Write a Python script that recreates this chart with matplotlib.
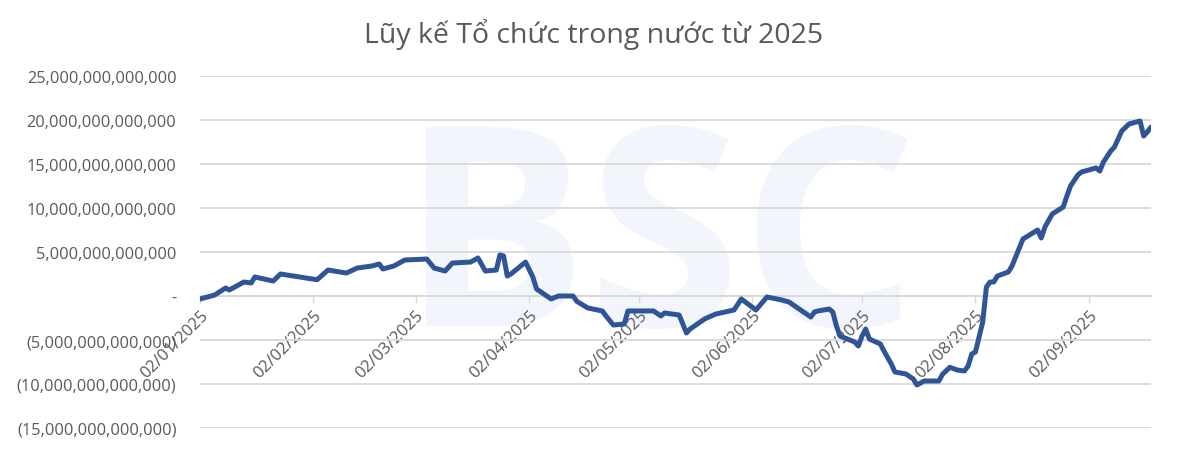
import matplotlib
matplotlib.use("Agg")
import matplotlib.pyplot as plt
import matplotlib.dates as mdates
from matplotlib.ticker import FuncFormatter, MultipleLocator
import pandas as pd

# ---- data (values in trillion VND) ----
dates = [
    "2025-01-02", "2025-01-06", "2025-01-09", "2025-01-10", "2025-01-14", "2025-01-16",
    "2025-01-17", "2025-01-22", "2025-01-24", "2025-02-03", "2025-02-06", "2025-02-11",
    "2025-02-14", "2025-02-18", "2025-02-20", "2025-02-21", "2025-02-24", "2025-02-27",
    "2025-03-05", "2025-03-07", "2025-03-10", "2025-03-12", "2025-03-17", "2025-03-19",
    "2025-03-21", "2025-03-24", "2025-03-25", "2025-03-26", "2025-03-27", "2025-03-28",
    "2025-04-01", "2025-04-03", "2025-04-04", "2025-04-08", "2025-04-10", "2025-04-14",
    "2025-04-15", "2025-04-18", "2025-04-22", "2025-04-23", "2025-04-25", "2025-04-28",
    "2025-04-29", "2025-05-02", "2025-05-06", "2025-05-08", "2025-05-09", "2025-05-13",
    "2025-05-15", "2025-05-16", "2025-05-20", "2025-05-23", "2025-05-28", "2025-05-30",
    "2025-06-03", "2025-06-06", "2025-06-10", "2025-06-12", "2025-06-16", "2025-06-18",
    "2025-06-19", "2025-06-20", "2025-06-23", "2025-06-24", "2025-06-25", "2025-06-26",
    "2025-06-30", "2025-07-01", "2025-07-02", "2025-07-03", "2025-07-04", "2025-07-07",
    "2025-07-08", "2025-07-10", "2025-07-11", "2025-07-14", "2025-07-16", "2025-07-17",
    "2025-07-19", "2025-07-23", "2025-07-24", "2025-07-26", "2025-07-28", "2025-07-30",
    "2025-07-31", "2025-08-01", "2025-08-02", "2025-08-04", "2025-08-05", "2025-08-06",
    "2025-08-07", "2025-08-08", "2025-08-11", "2025-08-12", "2025-08-15", "2025-08-19",
    "2025-08-20", "2025-08-21", "2025-08-23", "2025-08-26", "2025-08-27", "2025-08-28",
    "2025-08-30", "2025-08-31", "2025-09-04", "2025-09-05", "2025-09-06", "2025-09-08",
    "2025-09-09", "2025-09-11", "2025-09-13", "2025-09-16", "2025-09-17", "2025-09-18",
    "2025-09-19",
]
values_trillion = [
    -0.34, 0.11, 0.91, 0.68, 1.59, 1.48,
    2.16, 1.70, 2.50, 1.85, 2.95, 2.61,
    3.18, 3.41, 3.64, 3.07, 3.41, 4.09,
    4.20, 3.18, 2.84, 3.75, 3.86, 4.32,
    2.84, 2.95, 4.66, 4.55, 2.27, 2.50,
    3.86, 2.16, 0.80, -0.34, 0.00, 0.00,
    -0.60, -1.36, -1.70, -2.27, -3.30, -3.18,
    -1.70, -1.70, -1.70, -2.27, -1.93, -2.16,
    -4.20, -3.75, -2.60, -2.05, -1.59, -0.34,
    -1.59, -0.11, -0.45, -0.68, -1.82, -2.39,
    -1.82, -1.70, -1.48, -1.82, -3.41, -4.55,
    -5.23, -5.68, -4.55, -3.75, -4.89, -5.45,
    -6.25, -7.73, -8.64, -8.86, -9.43, -10.11,
    -9.66, -9.66, -8.90, -8.10, -8.41, -8.52,
    -7.95, -6.59, -6.36, -2.95, 1.02, 1.59,
    1.59, 2.27, 2.73, 3.41, 6.48, 7.50,
    6.59, 7.84, 9.32, 10.11, 11.36, 12.50,
    13.75, 14.09, 14.55, 14.20, 15.23, 16.48,
    16.93, 18.75, 19.55, 19.89, 18.18, 18.64,
    19.20,
]
tick_dates = ["2025-01-02", "2025-02-02", "2025-03-02", "2025-04-02", "2025-05-02",
              "2025-06-02", "2025-07-02", "2025-08-02", "2025-09-02"]
title = "Lũy kế Tổ chức trong nước từ 2025"

x = pd.to_datetime(dates)
y = [v * 1e12 for v in values_trillion]
ticks = pd.to_datetime(tick_dates)

plt.rcParams['font.family'] = ['Open Sans', 'DejaVu Sans']

fig = plt.figure(figsize=(11.88, 4.52), dpi=100)
fig.patch.set_facecolor("white")

# faint watermark in a background axes
bg = fig.add_axes([0, 0, 1, 1], zorder=0)
bg.set_axis_off()
bg.text(0.555, 0.44, "BSC", fontsize=200, fontweight="bold", color="#f2f5fc",
        ha="center", va="center", transform=bg.transAxes)

ax = fig.add_axes([200/1188, 1 - 429/452, 951/1188, (429 - 77)/452], zorder=1)
ax.set_facecolor("none")

grid_c = "#d9d9d9"
ax.set_ylim(-15e12, 25e12)
ax.yaxis.set_major_locator(MultipleLocator(5e12))
ax.grid(axis="y", color=grid_c, linewidth=1.3)
ax.set_axisbelow(True)

ax.plot(x, y, color="#2f5597", linewidth=3.6, solid_joinstyle="round",
        solid_capstyle="round", zorder=3)

ax.set_xlim(pd.Timestamp("2025-01-02"), pd.Timestamp("2025-09-19"))
ax.set_xticks(ticks)
ax.xaxis.set_major_formatter(mdates.DateFormatter("%d/%m/%Y"))

def fmt(v, pos):
    if abs(v) < 1:
        return "-"
    s = f"{abs(v):,.0f}"
    return f"({s})" if v < 0 else s

ax.yaxis.set_major_formatter(FuncFormatter(fmt))

for s in ["top", "right", "left"]:
    ax.spines[s].set_visible(False)
ax.spines["bottom"].set_position(("data", 0))
ax.spines["bottom"].set_color(grid_c)
ax.spines["bottom"].set_linewidth(1.3)

ax.tick_params(axis="y", length=0, pad=17, labelsize=11.8, labelcolor="#595959")
ax.tick_params(axis="x", length=5, width=1, color=grid_c, direction="out",
               pad=3, labelsize=12, labelcolor="#595959")
for lab in ax.get_xticklabels():
    lab.set_rotation(45)
    lab.set_ha("right")
    lab.set_va("top")
    lab.set_rotation_mode("anchor")

fig.text(0.5, 1 - 35/452, title, ha="center", va="center", fontsize=20.5, color="#595959")

fig.savefig("out.png", dpi=100, facecolor="white")
